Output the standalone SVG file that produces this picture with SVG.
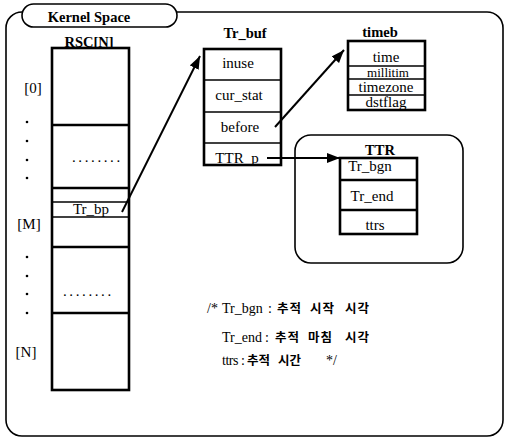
<svg xmlns="http://www.w3.org/2000/svg" width="506" height="441" viewBox="0 0 506 441">
  <style>
    .frame { fill: none; stroke: #000; stroke-width: 1.6; }
    .box { fill: #fff; stroke: #000; stroke-width: 2.6; }
    .sep { stroke: #000; stroke-width: 1.6; }
    .sepb { stroke: #000; stroke-width: 2.4; }
    .lbl { font-family: "Liberation Serif", "Times New Roman", serif; font-size: 15px; fill: #000; text-anchor: middle; }
    .sm { font-size: 13px; }
    .dots { font-family: "Liberation Serif", "Times New Roman", serif; font-size: 15px; fill: #000; letter-spacing: 2.6px; }
    .ttl { font-family: "Liberation Serif", "Times New Roman", serif; font-size: 14.5px; font-weight: bold; fill: #000; text-anchor: middle; }
    .cmt { font-family: "Liberation Serif", "Times New Roman", serif; font-size: 14px; fill: #000; }
    .ko { font-family: "Noto Sans CJK KR", sans-serif; font-size: 12.5px; font-weight: bold; }
    .link { stroke: #000; stroke-width: 2; fill: none; marker-end: url(#arrow); }
  </style>
  <defs>
    <marker id="arrow" markerUnits="userSpaceOnUse" markerWidth="14" markerHeight="10" refX="13" refY="5" orient="auto">
      <path d="M0,0 L13,5 L0,10 z" fill="#000"/>
    </marker>
  </defs>

  <rect width="506" height="441" fill="#fff"/>

  <!-- kernel space frame with its tab -->
  <g id="kernel-space">
    <rect class="frame" x="6" y="12" width="497" height="424" rx="16" ry="16"/>
    <rect x="22" y="4" width="155" height="23" rx="11.5" ry="11.5" fill="#fff" stroke="#000" stroke-width="1.6"/>
    <text class="ttl" x="89" y="22">Kernel Space</text>
  </g>

  <!-- RSC array -->
  <g id="rsc">
    <text class="ttl" x="89" y="47">RSC[N]</text>
    <rect class="box" x="52" y="48" width="77" height="342"/>
    <line class="sepb" x1="52" y1="125" x2="129" y2="125"/>
    <line class="sepb" x1="52" y1="188" x2="129" y2="188"/>
    <line class="sep" x1="52" y1="202" x2="129" y2="202"/>
    <line class="sep" x1="52" y1="217" x2="129" y2="217"/>
    <line class="sepb" x1="52" y1="247" x2="129" y2="247"/>
    <line class="sepb" x1="52" y1="313" x2="129" y2="313"/>
    <text class="dots" x="72" y="162">........</text>
    <text class="lbl" x="91" y="214">Tr_bp</text>
    <text class="dots" x="63" y="296">........</text>
  </g>

  <!-- index labels beside the array -->
  <g id="rsc-index">
    <text class="lbl" x="33" y="93">[0]</text>
    <circle cx="27" cy="122" r="1.3"/>
    <circle cx="27" cy="141" r="1.3"/>
    <circle cx="27" cy="160" r="1.3"/>
    <circle cx="27" cy="178" r="1.3"/>
    <text class="lbl" x="29" y="229">[M]</text>
    <circle cx="27" cy="257" r="1.3"/>
    <circle cx="27" cy="276" r="1.3"/>
    <circle cx="27" cy="294" r="1.3"/>
    <circle cx="27" cy="313" r="1.3"/>
    <text class="lbl" x="26" y="357">[N]</text>
  </g>

  <!-- Tr_buf structure -->
  <g id="tr-buf">
    <text class="ttl" x="245" y="38">Tr_buf</text>
    <rect class="box" x="204" y="49" width="77" height="116"/>
    <line class="sep" x1="204" y1="80" x2="281" y2="80"/>
    <line class="sep" x1="204" y1="112" x2="281" y2="112"/>
    <line class="sep" x1="204" y1="143" x2="281" y2="143"/>
    <text class="lbl" x="238" y="68">inuse</text>
    <text class="lbl" x="239" y="100">cur_stat</text>
    <text class="lbl" x="240" y="132">before</text>
    <text class="lbl" x="237" y="163">TTR_p</text>
  </g>

  <!-- timeb structure -->
  <g id="timeb">
    <text class="ttl" x="380" y="37">timeb</text>
    <rect class="box" x="348" y="41" width="77" height="69"/>
    <line class="sep" x1="348" y1="66" x2="425" y2="66"/>
    <line class="sep" x1="348" y1="79" x2="425" y2="79"/>
    <line class="sep" x1="348" y1="95" x2="425" y2="95"/>
    <text class="lbl" x="386" y="62">time</text>
    <text class="lbl sm" x="388" y="77">millitim</text>
    <text class="lbl" x="386" y="92">timezone</text>
    <text class="lbl" x="386" y="107">dstflag</text>
  </g>

  <!-- TTR structure -->
  <g id="ttr">
    <rect class="frame" x="295" y="135" width="168" height="128" rx="16" ry="16"/>
    <text class="ttl" x="380" y="155">TTR</text>
    <rect class="box" x="340" y="158" width="77" height="76"/>
    <line class="sepb" x1="340" y1="180" x2="417" y2="180"/>
    <line class="sepb" x1="340" y1="210" x2="417" y2="210"/>
    <text class="lbl" x="370" y="171">Tr_bgn</text>
    <text class="lbl" x="372" y="201">Tr_end</text>
    <text class="lbl" x="375" y="230">ttrs</text>
  </g>

  <!-- pointer links -->
  <g id="connectors">
    <line class="link" x1="122" y1="212" x2="200" y2="56"/>
    <line class="link" x1="275" y1="127" x2="344" y2="50"/>
    <line class="link" x1="267" y1="158" x2="340" y2="158"/>
  </g>

  <!-- field legend -->
  <g id="legend">
    <text class="cmt" y="313"><tspan x="207">/*</tspan><tspan x="222">Tr_bgn</tspan><tspan x="268">:</tspan><tspan class="ko" x="277" letter-spacing="1">추적</tspan><tspan class="ko" x="310" letter-spacing="1">시작</tspan><tspan class="ko" x="345" letter-spacing="1">시각</tspan></text>
    <text class="cmt" y="342"><tspan x="222">Tr_end</tspan><tspan x="265">:</tspan><tspan class="ko" x="275" letter-spacing="1">추적</tspan><tspan class="ko" x="308" letter-spacing="1">마침</tspan><tspan class="ko" x="345" letter-spacing="1">시각</tspan></text>
    <text class="cmt" y="365"><tspan x="222" letter-spacing="-0.5">ttrs</tspan><tspan x="241">:</tspan><tspan class="ko" x="247">추적</tspan><tspan class="ko" x="278">시간</tspan><tspan x="326">*/</tspan></text>
  </g>
</svg>
